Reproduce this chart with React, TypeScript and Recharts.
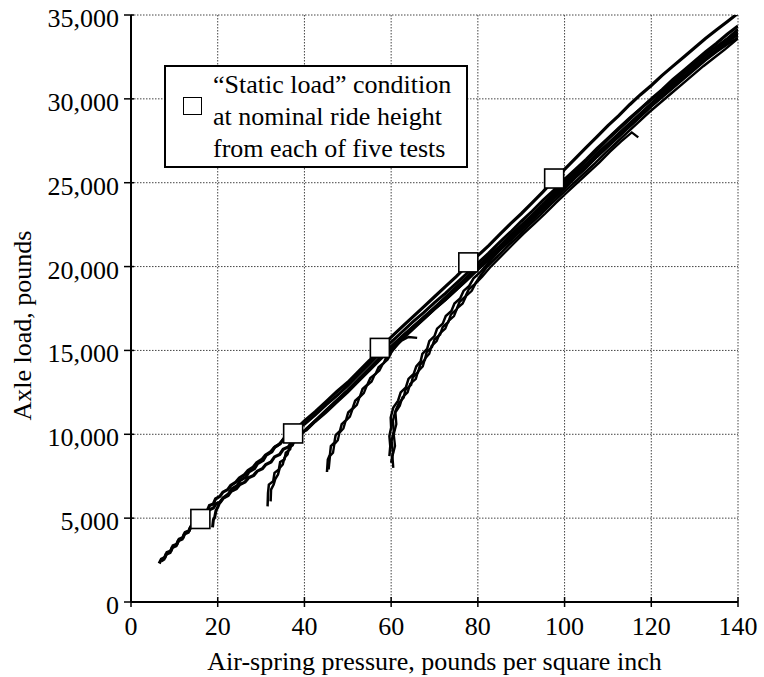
import React from "react";
import {
  ComposedChart,
  Line,
  Scatter,
  XAxis,
  YAxis,
  CartesianGrid,
  Legend,
} from "recharts";

type Pair = [number, number];

// Tick values
const xTicks = [0, 20, 40, 60, 80, 100, 120, 140];
const yTicks = [0, 5000, 10000, 15000, 20000, 25000, 30000, 35000];

// "Static load" points at nominal ride height (one per test)
const staticLoad: Pair[] = [
  [16, 4950],
  [37.4, 10050],
  [57.4, 15150],
  [77.8, 20250],
  [97.6, 25250],
];

// Measured traces (air-spring pressure psi, axle load lb)
const traceM1: Pair[] = [
  [6.5, 2300], [7, 2550], [7.8, 2650], [8.3, 2950], [9.2, 3050], [9.7, 3350], [10.6, 3450],
  [11.1, 3750], [12, 3850], [12.5, 4150], [13.4, 4250], [13.9, 4550], [14.8, 4650],
  [15.3, 4950], [16.2, 5050], [16.7, 5350], [17.6, 5450], [18.1, 5750], [19, 5850],
  [19.5, 6150], [20.5, 6300], [21.2, 6550], [22.3, 6700], [23, 6950], [24.2, 7150],
  [25, 7400], [26.2, 7600], [27, 7850], [28.2, 8050], [29, 8300], [30.2, 8500], [31, 8750],
  [32.2, 8950], [33, 9200], [34.2, 9400], [35, 9650], [36.2, 9850], [37, 10100],
  [38.2, 10300], [39, 10550], [40, 10800], [42.5, 11350], [45, 11950], [47.5, 12550],
  [50, 13100], [52.5, 13750], [55, 14400], [57.5, 15100], [60, 15800], [62.5, 16400],
  [65, 17000], [67.5, 17600], [70, 18200], [72.5, 18800], [75, 19400], [77.5, 20050],
  [80, 20650], [82.5, 21250], [85, 21900], [87.5, 22550], [90, 23150], [92.5, 23800],
  [95, 24450], [97.5, 25150], [100, 25800], [102.5, 26450], [105, 27100], [107.5, 27750],
  [110, 28400], [112.5, 29000], [115, 29650], [117.5, 30250], [120, 30800], [122.5, 31400],
  [125, 31950], [127.5, 32500], [130, 33050], [132.5, 33600], [135, 34100], [137.5, 34600],
  [140, 35100],
];

const traceM2: Pair[] = [
  [7, 2450], [7.6, 2550], [8.1, 2850], [9, 2950], [9.5, 3250], [10.4, 3350], [10.9, 3650],
  [11.8, 3750], [12.3, 4050], [13.2, 4150], [13.7, 4450], [14.6, 4550], [15.1, 4800],
  [16, 4900], [16.6, 5150], [17.5, 5250], [18.1, 5500], [19, 5600], [19.6, 5850],
  [20.6, 5950], [21.3, 6200], [22.4, 6350], [23.1, 6600], [24.3, 6750], [25.1, 7000],
  [26.3, 7150], [27.1, 7400], [28.3, 7550], [29.1, 7800], [30.3, 7950], [31.1, 8200],
  [32.3, 8350], [33.1, 8650], [34.3, 8800], [35.1, 9100], [36.3, 9250], [37.1, 9550],
  [38.3, 9700], [39.1, 10000], [40, 10200], [42.5, 10800], [45, 11400], [47.5, 12000],
  [50, 12600], [52.5, 13250], [55, 13900], [57.5, 14550], [60, 15200], [62.5, 15800],
  [65, 16400], [67.5, 16950], [70, 17550], [72.5, 18150], [75, 18750], [77.5, 19350],
  [80, 20000], [82.5, 20600], [85, 21200], [87.5, 21850], [90, 22450], [92.5, 23050],
  [95, 23700], [97.5, 24350], [100, 25000], [102.5, 25650], [105, 26300], [107.5, 26950],
  [110, 27600], [112.5, 28200], [115, 28800], [117.5, 29400], [120, 30000], [122.5, 30550],
  [125, 31150], [127.5, 31700], [130, 32250], [132.5, 32800], [135, 33300], [137.5, 33850],
  [140, 34350],
];

const traceA: Pair[] = [
  [18.8, 4450], [19, 4900], [19.3, 5050], [19.6, 5450], [20, 5650], [20.5, 5950],
  [21.2, 6200], [22.5, 6450], [23.2, 6750], [24.5, 6950], [25.2, 7250], [26.5, 7450],
  [27.2, 7750], [28.5, 7950], [29.2, 8250], [30.5, 8450], [31.2, 8750], [32.5, 8950],
  [33.2, 9250], [34.5, 9450], [35.2, 9750], [36.5, 9950], [37.2, 10250], [38.5, 10400],
  [40, 10600], [42.5, 11150], [45, 11750], [47.5, 12300], [50, 12900], [52.5, 13550],
  [55, 14200], [57.5, 14850], [60, 15500], [62.5, 16100], [65, 16700], [67.5, 17250],
  [70, 17850], [72.5, 18400], [75, 19000], [77.5, 19600], [80, 20200], [82.5, 20800],
  [85, 21450], [87.5, 22050], [90, 22700], [92.5, 23300], [95, 23950], [97.5, 24550],
  [100, 25200], [102.5, 25800], [105, 26400], [107.5, 27050], [110, 27650], [112.5, 28250],
  [115, 28850], [117.5, 29400], [120, 29950], [122.5, 30500], [125, 31050], [127.5, 31600],
  [130, 32100], [132.5, 32650], [135, 33100], [137.5, 33550], [140, 33800],
];

const traceB1: Pair[] = [
  [31.5, 5700], [31.6, 6500], [31.8, 7000], [32.8, 7200], [33.1, 7700], [34.1, 7900],
  [34.4, 8350], [35.4, 8500], [35.7, 8900], [36.7, 9100], [37, 9450], [38, 9600],
  [38.4, 9900], [39.5, 10100], [41, 10450], [43, 10950], [45, 11450], [47.5, 12050],
  [50, 12650], [52.5, 13300], [55, 13950], [57.5, 14600], [60, 15250], [62.5, 15850],
  [65, 16400], [67.5, 17000], [70, 17550], [72.5, 18150], [75, 18750], [77.5, 19350],
  [80, 19950], [82.5, 20550], [85, 21150], [87.5, 21750], [90, 22350], [92.5, 22950],
  [95, 23600], [97.5, 24200], [100, 24850], [102.5, 25500], [105, 26100], [107.5, 26750],
  [110, 27350], [112.5, 27950], [115, 28550], [117.5, 29150], [120, 29750], [122.5, 30350],
  [125, 30900], [127.5, 31500], [130, 32050], [132.5, 32600], [135, 33100], [137.5, 33600],
  [140, 34150],
];

const traceB2: Pair[] = [
  [32.2, 6000], [32.3, 6700], [32.9, 7000], [33.3, 7350], [33.9, 7600], [34.3, 8000],
  [35, 8200], [35.4, 8600], [36.1, 8800], [36.5, 9200], [37.3, 9350], [37.8, 9700],
  [38.7, 9850], [39.2, 10100], [40.5, 10250], [42.5, 10750], [45, 11300], [47.5, 11900],
  [50, 12500], [52.5, 13150], [55, 13800], [57.5, 14450], [60, 15100], [62.5, 15700],
  [65, 16300], [67.5, 16850], [70, 17450], [72.5, 18000], [75, 18600], [77.5, 19200],
  [80, 19800], [82.5, 20400], [85, 21000], [87.5, 21600], [90, 22200], [92.5, 22800],
  [95, 23400], [97.5, 24050], [100, 24650], [102.5, 25300], [105, 25900], [107.5, 26550],
  [110, 27150], [112.5, 27750], [115, 28350], [117.5, 28950], [120, 29550], [122.5, 30100],
  [125, 30650], [127.5, 31200], [130, 31750], [132.5, 32300], [135, 32800], [137.5, 33250],
  [140, 33650],
];

const traceC1: Pair[] = [
  [45.2, 7750], [45.4, 8500], [45.9, 8800], [46.1, 9300], [46.9, 9500], [47.2, 9950],
  [48.2, 10200], [48.6, 10600], [49.6, 10850], [50.1, 11300], [51.1, 11550], [51.7, 12000],
  [52.8, 12250], [53.4, 12700], [54.5, 12950], [55.2, 13350], [56.4, 13600], [57.1, 14000],
  [58.3, 14250], [59, 14650], [60.5, 15050], [62.5, 15650], [65, 16250], [67.5, 16850],
  [70, 17450], [72.5, 18000], [75, 18600], [77.5, 19200], [80, 19850], [82.5, 20450],
  [85, 21050], [87.5, 21650], [90, 22250], [92.5, 22900], [95, 23500], [97.5, 24150],
  [100, 24800], [102.5, 25400], [105, 26050], [107.5, 26650], [110, 27250], [112.5, 27850],
  [115, 28450], [117.5, 29050], [120, 29650], [122.5, 30200], [125, 30800], [127.5, 31350],
  [130, 31900], [132.5, 32450], [135, 32950], [137.5, 33450], [140, 34000],
];

const traceC2: Pair[] = [
  [45.6, 7900], [45.9, 8700], [46.6, 8900], [46.9, 9400], [47.7, 9650], [48.1, 10100],
  [49, 10350], [49.5, 10800], [50.5, 11050], [51.1, 11500], [52.1, 11750], [52.7, 12200],
  [53.7, 12450], [54.4, 12900], [55.5, 13150], [56.2, 13550], [57.3, 13800], [58.1, 14200],
  [59.2, 14450], [60, 14850], [61, 15250], [62.5, 15600], [64, 15800], [66, 15750],
];

const traceD1: Pair[] = [
  [59.6, 8700], [59.8, 9300], [59.6, 9900], [60, 10400], [59.9, 11000], [60.5, 11600],
  [61.6, 12000], [62.2, 12500], [63.4, 12800], [64, 13300], [65.2, 13600], [65.8, 14050],
  [66.8, 14350], [67.2, 14800], [68.3, 15100], [68.8, 15550], [70, 15850], [70.6, 16300],
  [71.9, 16600], [72.6, 17050], [73.9, 17350], [74.6, 17800], [75.9, 18100], [76.7, 18550],
  [78, 18850], [79, 19300], [80.5, 19650], [82.5, 20250], [85, 20950], [87.5, 21550],
  [90, 22150], [92.5, 22800], [95, 23400], [97.5, 24050], [100, 24650], [102.5, 25300],
  [105, 25900], [107.5, 26550], [110, 27150], [112.5, 27750], [115, 28350], [117.5, 28950],
  [120, 29550], [122.5, 30150], [125, 30700], [127.5, 31250], [130, 31800], [132.5, 32350],
  [135, 32850], [137.5, 33350], [140, 33850],
];

const traceD2: Pair[] = [
  [60.5, 8000], [60.3, 8700], [60.9, 9300], [60.6, 10000], [61.2, 10600], [61, 11300],
  [62, 11700], [62.6, 12200], [63.8, 12500], [64.4, 13000], [65.7, 13300], [66.2, 13750],
  [67.3, 14050], [67.8, 14500], [68.8, 14800], [69.3, 15250], [70.5, 15550], [71.2, 16000],
  [72.5, 16300], [73.2, 16750], [74.5, 17050], [75.2, 17500], [76.5, 17800], [77.3, 18250],
  [78.6, 18550], [79.5, 19000], [81, 19400], [83, 20000], [85.5, 20650], [88, 21300],
  [90.5, 21950], [93, 22550], [95.5, 23150], [98, 23800], [100.5, 24400], [103, 25000],
  [105.5, 25600], [108, 26200], [110.5, 26850], [113, 27450], [115.5, 28000], [117, 27700],
];

const traceD3: Pair[] = [
  [60, 8300], [60.4, 8900], [60.1, 9600], [60.6, 10200], [60.4, 10800], [61, 11400],
  [61.8, 11850], [62.9, 12200], [63.3, 12650], [64.6, 12950], [65, 13400], [66.2, 13700],
  [66.7, 14150], [67.8, 14450], [68.2, 14900], [69.4, 15200], [70, 15650], [71.3, 15950],
  [71.9, 16400], [73.2, 16700], [73.8, 17150], [75.1, 17450], [75.8, 17900], [77.1, 18200],
  [77.9, 18650], [79.3, 18950], [80.6, 19450], [82, 19950], [84.5, 20600], [87, 21250],
  [89.5, 21850], [92, 22500], [94.5, 23100], [97, 23750], [99.5, 24350], [102, 24950],
  [104.5, 25550], [107, 26150], [109.5, 26800], [112, 27400], [114.5, 28000], [117, 28600],
  [119.5, 29200], [122, 29750], [124.5, 30300], [127, 30850], [129.5, 31400], [132, 31950],
  [134.5, 32450], [137, 32950], [140, 33600],
];

const traces: { name: string; pts: Pair[]; w: number }[] = [
  { name: "m1", pts: traceM1, w: 3.2 },
  { name: "m2", pts: traceM2, w: 3.2 },
  { name: "a", pts: traceA, w: 3 },
  { name: "b1", pts: traceB1, w: 2.5 },
  { name: "b2", pts: traceB2, w: 2.5 },
  { name: "c1", pts: traceC1, w: 2.5 },
  { name: "c2", pts: traceC2, w: 2.3 },
  { name: "d1", pts: traceD1, w: 2.5 },
  { name: "d2", pts: traceD2, w: 2.3 },
  { name: "d3", pts: traceD3, w: 2.5 },
];

const toPts = (a: Pair[]) => a.map(([x, y]) => ({ x, y }));

const FONT = "'Liberation Serif', 'Times New Roman', Times, serif";

const XTick = (props: any) => {
  const { x, y, payload } = props;
  return (
    <g>
      <line x1={x} x2={x} y1={y - 5} y2={y + 5} stroke="#000" strokeWidth={1.5} />
      <text x={x} y={y + 33} textAnchor="middle" fontSize={26} fontFamily={FONT} fill="#000">
        {payload.value}
      </text>
    </g>
  );
};

const YTick = (props: any) => {
  const { x, y, payload } = props;
  return (
    <g>
      <line x1={x - 7} x2={x + 3} y1={y} y2={y} stroke="#000" strokeWidth={1.5} />
      <text x={x - 12} y={y + 12} textAnchor="end" fontSize={26} fontFamily={FONT} fill="#000">
        {Number(payload.value).toLocaleString("en-US")}
      </text>
    </g>
  );
};

const SquareShape = (props: any) => {
  const { cx, cy } = props;
  return (
    <rect x={cx - 9.5} y={cy - 9.5} width={19} height={19} fill="#fff" stroke="#000" strokeWidth={1.6} />
  );
};

const LegendBox = () => (
  <div
    style={{
      boxSizing: "border-box",
      width: 304,
      height: 103,
      border: "2px solid #000",
      background: "#fff",
      position: "relative",
      paddingTop: 1.5,
      paddingLeft: 47,
      fontFamily: FONT,
      fontSize: 26,
      lineHeight: "32px",
      color: "#000",
      whiteSpace: "nowrap",
      textAlign: "left",
    }}
  >
    <div
      style={{
        position: "absolute",
        left: 17,
        top: 30,
        width: 19,
        height: 18,
        boxSizing: "border-box",
        border: "1.5px solid #000",
        background: "#fff",
      }}
    />
    <div>“Static load” condition</div>
    <div>at nominal ride height</div>
    <div>from each of five tests</div>
  </div>
);

export default function App() {
  return (
    <div style={{ position: "absolute", left: 0, top: 0, width: 764, height: 677, background: "#fff" }}>
      <ComposedChart
        width={764}
        height={677}
        margin={{ top: 15, right: 26, bottom: 0, left: 0 }}
        style={{ fontFamily: FONT }}
      >
        <CartesianGrid
          stroke="#444"
          strokeDasharray="1.5 1.5"
          strokeWidth={1}
          horizontalValues={yTicks}
          verticalValues={xTicks}
        />
        <XAxis
          type="number"
          dataKey="x"
          domain={[0, 140]}
          ticks={xTicks}
          allowDataOverflow
          height={75}
          tickSize={0}
          tickMargin={0}
          tickLine={false}
          axisLine={{ stroke: "#000", strokeWidth: 2 }}
          tick={<XTick />}
          interval={0}
          label={{
            content: (p: any) => {
              const vb = p.viewBox || {};
              return (
                <text
                  x={vb.x + vb.width / 2}
                  y={vb.y + 68}
                  textAnchor="middle"
                  fontSize={26}
                  fontFamily={FONT}
                  fill="#000"
                >
                  Air-spring pressure, pounds per square inch
                </text>
              );
            },
          }}
        />
        <YAxis
          type="number"
          domain={[0, 35000]}
          ticks={yTicks}
          allowDataOverflow
          width={131}
          tickSize={0}
          tickMargin={0}
          tickLine={false}
          axisLine={{ stroke: "#000", strokeWidth: 2 }}
          tick={<YTick />}
          interval={0}
          label={{
            content: (p: any) => {
              const vb = p.viewBox || {};
              const cx = vb.x + 31;
              const cy = vb.y + vb.height / 2 + 17;
              return (
                <text
                  x={cx}
                  y={cy}
                  transform={`rotate(-90 ${cx} ${cy})`}
                  textAnchor="middle"
                  fontSize={26}
                  fontFamily={FONT}
                  fill="#000"
                >
                  Axle load, pounds
                </text>
              );
            },
          }}
        />
        {traces.map((t) => (
          <Line
            key={t.name}
            data={toPts(t.pts)}
            dataKey="y"
            name={t.name}
            type="linear"
            stroke="#000"
            strokeWidth={t.w}
            strokeLinejoin="miter"
            dot={false}
            activeDot={false}
            isAnimationActive={false}
            legendType="none"
          />
        ))}
        <Scatter
          data={toPts(staticLoad)}
          dataKey="y"
          name="static"
          shape={<SquareShape />}
          isAnimationActive={false}
          legendType="none"
        />
        <Legend
          layout="horizontal"
          verticalAlign="middle"
          align="center"
          width={304}
          height={103}
          wrapperStyle={{ left: 164, top: 65, width: 304, height: 103 }}
          content={() => <LegendBox />}
        />
      </ComposedChart>
    </div>
  );
}
